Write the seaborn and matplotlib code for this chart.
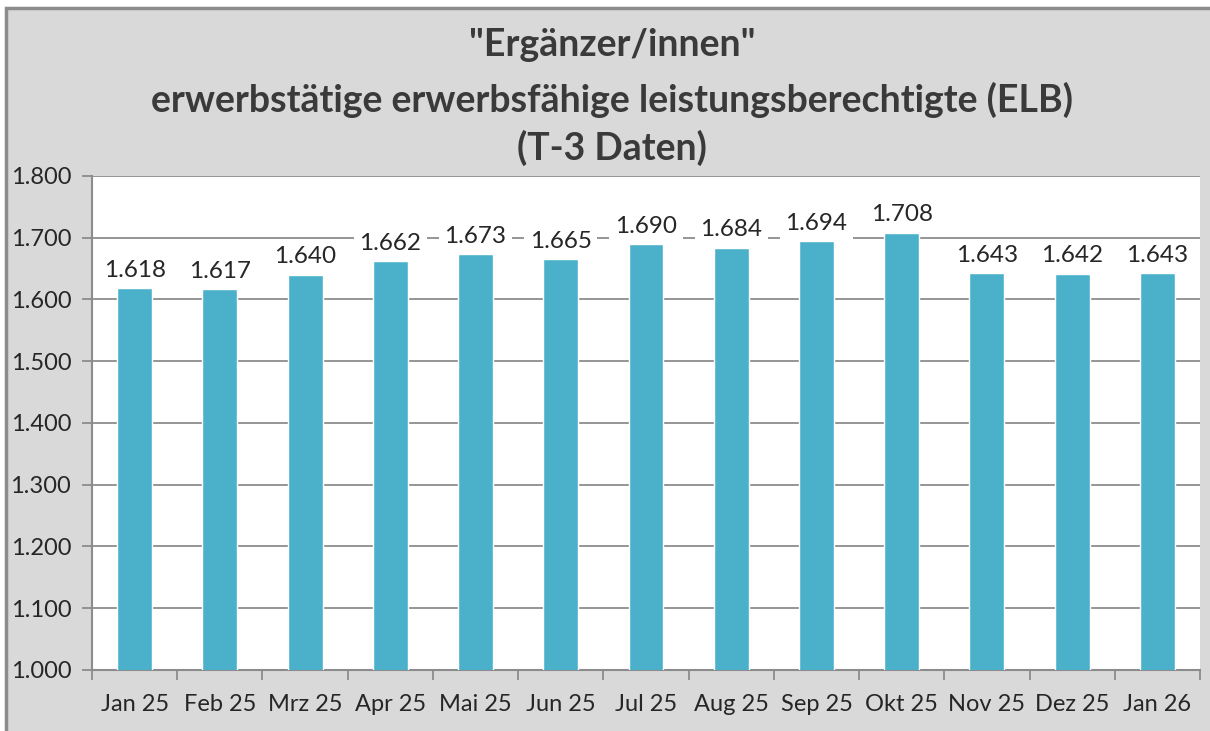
import matplotlib
matplotlib.use("Agg")
import matplotlib.pyplot as plt
import seaborn as sns
import pandas as pd
from matplotlib.patches import Rectangle
from matplotlib.ticker import FuncFormatter, FixedLocator

# Data
months = ["Jan 25", "Feb 25", "Mrz 25", "Apr 25", "Mai 25", "Jun 25", "Jul 25",
          "Aug 25", "Sep 25", "Okt 25", "Nov 25", "Dez 25", "Jan 26"]
values = [1618, 1617, 1640, 1662, 1673, 1665, 1690, 1684, 1694, 1708, 1643, 1642, 1643]
y_ticks = [1000, 1100, 1200, 1300, 1400, 1500, 1600, 1700, 1800]
title_lines = ['"Ergänzer/innen"',
               "erwerbstätige erwerbsfähige leistungsberechtigte (ELB)",
               "(T-3 Daten)"]

sns.set_style("white")
plt.rcParams["font.family"] = ["Lato", "DejaVu Sans"]

BAR = "#4BB1CB"
TEXT = "#262626"
GRID = "#8C8C8C"
W, H = 1210, 731

df = pd.DataFrame({"month": months, "value": values})

fig = plt.figure(figsize=(12.1, 7.31), dpi=100)
fig.patch.set_facecolor("white")
# gray chart area; only its top and left border fall inside the canvas
fig.add_artist(Rectangle((6 / W, -0.1), 1.1, 1 - 8 / H + 0.1, transform=fig.transFigure,
                         facecolor="#D9D9D9", edgecolor="#8C8C8C", lw=2.5, zorder=-5))

ax = fig.add_axes([92 / W, 1 - 670 / H, (1200 - 92) / W, (670 - 176) / H])
ax.set_facecolor("white")

sns.barplot(data=df, x="month", y="value", color=BAR, width=0.41, saturation=1,
            ax=ax, zorder=3)

ax.set_ylim(1000, 1800)
ax.set_xlim(-0.5, len(months) - 0.5)
ax.yaxis.set_major_locator(FixedLocator(y_ticks))
ax.yaxis.set_major_formatter(FuncFormatter(lambda v, p: f"{int(v):,}".replace(",", ".")))
ax.grid(axis="y", color=GRID, lw=1.3, zorder=0)
ax.set_axisbelow(True)

for s in ["top", "right"]:
    ax.spines[s].set_visible(False)
for s in ["left", "bottom"]:
    ax.spines[s].set_color(GRID)
    ax.spines[s].set_linewidth(1.5)

ax.set_xlabel("")
ax.set_ylabel("")
ax.tick_params(axis="y", which="major", direction="out", length=7, width=1.3, color=GRID,
               labelsize=17, labelcolor=TEXT, pad=8, left=True)
ax.tick_params(axis="x", which="major", length=0, labelsize=17, labelcolor=TEXT, pad=17)
# category boundary ticks on x-axis
ax.set_xticks([i - 0.5 for i in range(len(months) + 1)], minor=True)
ax.tick_params(axis="x", which="minor", direction="out", length=7, width=1.3, color=GRID,
               bottom=True)

# value labels on white boxes that cut the gridlines
for i, v in enumerate(values):
    ax.text(i, v + 29, f"{v:,}".replace(",", "."), ha="center", va="center",
            fontsize=17.5, color=TEXT, zorder=5,
            bbox=dict(facecolor="white", edgecolor="none", pad=4))

for y, line in zip([45, 100, 148], title_lines):
    fig.text(612 / W, 1 - y / H, line, ha="center", va="center",
             fontsize=27, fontweight="bold", color="#3A3A3A")

fig.savefig("out.png", dpi=100, facecolor=fig.get_facecolor())
